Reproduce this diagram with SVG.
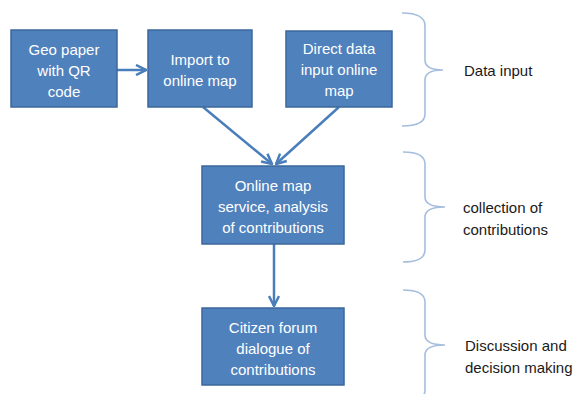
<svg xmlns="http://www.w3.org/2000/svg" width="579" height="394" viewBox="0 0 579 394">
  <style>
    .box { fill: #4F81BD; stroke: #3B679A; stroke-width: 1.5; }
    .btxt { fill: #FFFFFF; font-family: "Liberation Sans", Arial, sans-serif; font-size: 15px; text-anchor: middle; }
    .edge { fill: none; stroke: #4A7EBB; stroke-width: 2.5; }
    .brace { fill: none; stroke: #A5BEDD; stroke-width: 1.6; }
    .ltxt { fill: #1A1A1A; font-family: "Liberation Sans", Arial, sans-serif; font-size: 15px; }
  </style>
  <defs>
    <marker id="arrow" viewBox="0 0 10 10" refX="9" refY="5" markerWidth="5" markerHeight="5" orient="auto" markerUnits="strokeWidth">
      <path d="M1,1 L9,5 L1,9" fill="none" stroke="#4A7EBB" stroke-width="2"/>
    </marker>
  </defs>
  <rect width="579" height="394" fill="#FFFFFF"/>

  <g id="connectors">
    <line class="edge" x1="117" y1="70" x2="146" y2="70" marker-end="url(#arrow)"/>
    <line class="edge" x1="203" y1="107" x2="272" y2="164" marker-end="url(#arrow)"/>
    <line class="edge" x1="339" y1="107" x2="276" y2="164" marker-end="url(#arrow)"/>
    <line class="edge" x1="274" y1="244" x2="274" y2="306" marker-end="url(#arrow)"/>
  </g>

  <g id="geo-paper">
    <rect class="box" x="11" y="30" width="106" height="77"/>
    <text class="btxt" x="64" y="55">Geo paper</text>
    <text class="btxt" x="64" y="76">with QR</text>
    <text class="btxt" x="64" y="97">code</text>
  </g>
  <g id="import-map">
    <rect class="box" x="148" y="30" width="104" height="77"/>
    <text class="btxt" x="200" y="65">Import to</text>
    <text class="btxt" x="200" y="86">online map</text>
  </g>
  <g id="direct-input">
    <rect class="box" x="286" y="31" width="106" height="76"/>
    <text class="btxt" x="339" y="54">Direct data</text>
    <text class="btxt" x="339" y="75">input online</text>
    <text class="btxt" x="339" y="96">map</text>
  </g>
  <g id="map-service">
    <rect class="box" x="202" y="166" width="142" height="78"/>
    <text class="btxt" x="273" y="191">Online map</text>
    <text class="btxt" x="273" y="212">service, analysis</text>
    <text class="btxt" x="273" y="233">of contributions</text>
  </g>
  <g id="citizen-forum">
    <rect class="box" x="202" y="308" width="142" height="77"/>
    <text class="btxt" x="273" y="333">Citizen forum</text>
    <text class="btxt" x="273" y="354">dialogue of</text>
    <text class="btxt" x="273" y="375">contributions</text>
  </g>

  <g id="stage-data-input">
    <path class="brace" d="M402,13 Q425,13 425,26 L425,60 Q425,70 443,70 Q425,70 425,80 L425,114 Q425,126 402,126"/>
    <text class="ltxt" x="464" y="76">Data input</text>
  </g>
  <g id="stage-collection">
    <path class="brace" d="M403,152 Q425,152 425,164 L425,197 Q425,207 445,207 Q425,207 425,217 L425,250 Q425,262 403,262"/>
    <text class="ltxt" x="463" y="213">collection of</text>
    <text class="ltxt" x="463" y="235">contributions</text>
  </g>
  <g id="stage-discussion">
    <path class="brace" d="M403,290 Q425,290 425,302 L425,335 Q425,345 445,345 Q425,345 425,355 L425,390 Q425,402 403,402"/>
    <text class="ltxt" x="465" y="351">Discussion and</text>
    <text class="ltxt" x="465" y="373">decision making</text>
  </g>
</svg>
